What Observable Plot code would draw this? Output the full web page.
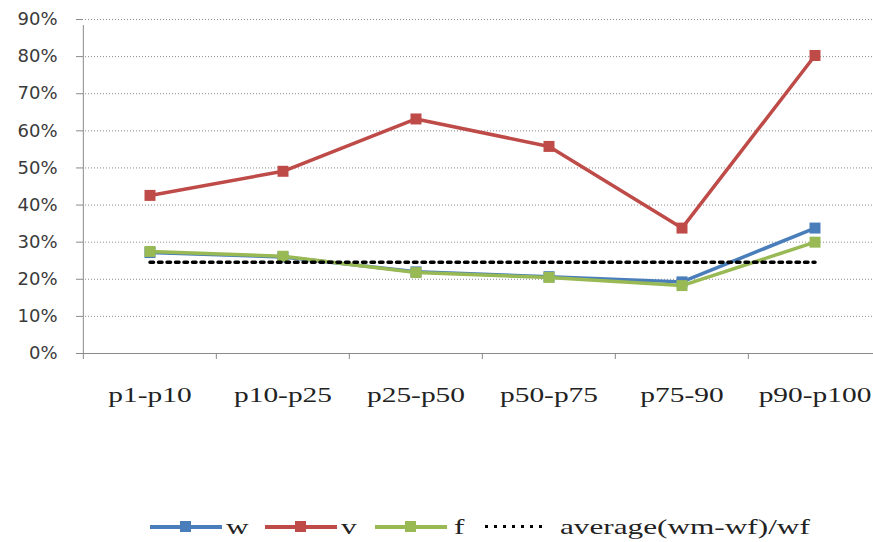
<!DOCTYPE html>
<html><head><meta charset="utf-8">
<script src="https://cdn.jsdelivr.net/npm/d3@7"></script>
<script src="https://cdn.jsdelivr.net/npm/@observablehq/plot@0.6"></script>
<style>
body{margin:0;background:#fff;}
#chart{width:873px;height:430px;}
#legend{position:relative;width:873px;height:30px;margin-top:82px;font-family:"Liberation Serif",serif;font-size:22px;color:#222;}
#legend .sw{position:absolute;top:13px;height:4px;}
#legend .sq{position:absolute;top:-4px;width:11px;height:11px;}
#legend .dots{position:absolute;top:13px;height:3px;background:repeating-linear-gradient(to right,#000 0 3px,transparent 3px 9px);}
#legend .tx{position:absolute;top:0;line-height:30px;white-space:nowrap;transform:scaleX(1.42);transform-origin:left center;}
</style></head><body>
<div id="chart"></div>
<div id="legend"></div>
<script>
const categories = ["p1-p10","p10-p25","p25-p50","p50-p75","p75-90","p90-p100"];
const seriesNames = ["w","v","f"];
const wValues = [0.272,0.260,0.220,0.207,0.193,0.338];
const vValues = [0.426,0.491,0.632,0.558,0.338,0.803];
const fValues = [0.275,0.262,0.218,0.205,0.183,0.300];
const averageValue = 0.246;
const averageLabel = "average(wm-wf)/wf";
const yTicks = [0,0.1,0.2,0.3,0.4,0.5,0.6,0.7,0.8,0.9];
const colors = ["#4a7ebb","#be4b48","#98b954"];

const valuesBySeries = [wValues, vValues, fValues];
const data = seriesNames.flatMap((s, si) => categories.map((c, i) => ({series: s, cat: c, value: valuesBySeries[si][i]})));
const avgData = categories.map(c => ({cat: c, value: averageValue}));
const bw = 800 / categories.length;
const gray = "#8a8a8a";

const seriesMarks = seriesNames.flatMap(s => {
  const d = data.filter(r => r.series === s);
  return [
    Plot.line(d, {x: "cat", y: "value", stroke: "series", strokeWidth: 3.5}),
    Plot.dot(d, {x: "cat", y: "value", fill: "series", symbol: "square", r: 6.2})
  ];
});

const chart = Plot.plot({
  width: 873, height: 430,
  marginLeft: 82, marginRight: 0, marginTop: 19, marginBottom: 77,
  x: {type: "band", domain: categories, range: [82, 882], padding: 0},
  y: {domain: [0, 0.9]},
  color: {domain: seriesNames, range: colors},
  style: {background: "white", overflow: "hidden"},
  marks: [
    Plot.gridY(yTicks.slice(1), {stroke: gray, strokeOpacity: 1, strokeDasharray: "1,2"}),
    Plot.axisY(yTicks, {label: null, tickSize: 6, tickPadding: 19, tickFormat: d => Math.round(d * 100) + "%", fontSize: 18, fontFamily: "DejaVu Sans", stroke: gray, fill: "#3a3a3a"}),
    Plot.axisX({label: null, tickSize: 0, tickPadding: 34, fontSize: 21, fontFamily: "Liberation Serif", fill: "#222"}),
    Plot.ruleY([0], {stroke: gray}),
    Plot.ruleX([categories[0]], {y1: 0, y2: 0.9, dx: -bw / 2, stroke: gray, insetBottom: -6}),
    Plot.ruleX(categories, {y1: 0, y2: 0, dx: -bw / 2, stroke: gray, insetBottom: -6}),
    ...seriesMarks,
    Plot.line(avgData, {x: "cat", y: "value", stroke: "#000", strokeWidth: 3.5, strokeDasharray: "3.5,5"})
  ]
});
document.getElementById("chart").appendChild(chart);

chart.querySelectorAll('g[aria-label="x-axis tick label"] text').forEach(t => {
  const L = t.getComputedTextLength();
  t.setAttribute("textLength", L * 1.4);
  t.setAttribute("lengthAdjust", "spacingAndGlyphs");
});

// legend
const legend = d3.select("#legend");
const swLeft = [150, 265, 375];
const txLeft = [226, 341, 454];
seriesNames.forEach((s, i) => {
  const sw = legend.append("div").attr("class", "sw").style("left", swLeft[i] + "px").style("width", "72px").style("background", colors[i]);
  sw.append("div").attr("class", "sq").style("left", "30px").style("background", colors[i]);
  legend.append("span").attr("class", "tx").style("left", txLeft[i] + "px").text(s);
});
legend.append("div").attr("class", "dots").style("left", "485px").style("width", "63px");
legend.append("span").attr("class", "tx").style("left", "560px").text(averageLabel);
</script>
</body></html>
